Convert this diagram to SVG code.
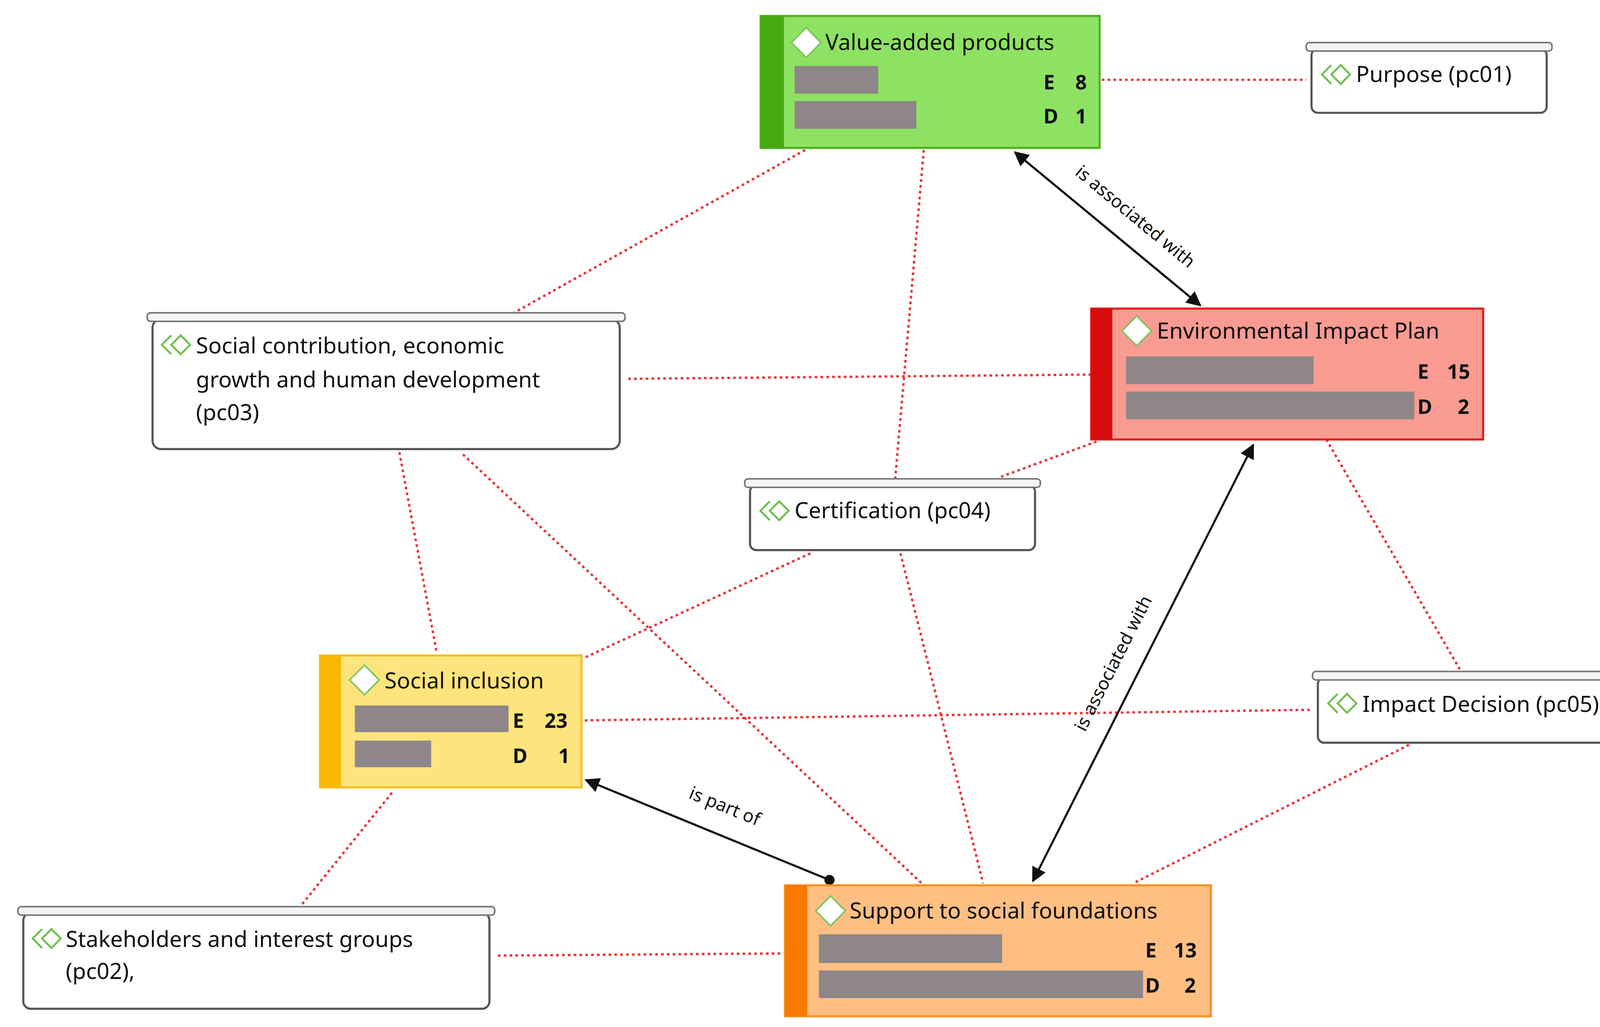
<svg xmlns="http://www.w3.org/2000/svg" width="4250" height="2630" viewBox="0 0 4250 2630">
<style>
text{font-family:"Noto Sans","Open Sans","Liberation Sans",sans-serif;fill:#111}
.t{font-size:21px}
.n{font-size:19px;font-weight:bold}
.l{font-size:17px}
.g{fill:#8e8688}
.dot{fill:none;stroke:#e8343a;stroke-width:2.2;stroke-dasharray:2.5 3}
.blk{fill:none;stroke:#111;stroke-width:2}
.scroll{fill:#fff;stroke:#555;stroke-width:2}
.bar{fill:#f4f4f4;stroke:#777;stroke-width:1.5}
.dia{fill:#fff;stroke:#7cc65a;stroke-width:1.5}
.ico{fill:none;stroke:#6cbf4a;stroke-width:2}
</style>
<defs>
<marker id="ah" viewBox="0 0 10 10" refX="9" refY="5" markerWidth="7" markerHeight="7" orient="auto-start-reverse"><path d="M0,0L10,5L0,10z" fill="#111"/></marker>
<marker id="dt" viewBox="0 0 10 10" refX="5" refY="5" markerWidth="6" markerHeight="6"><circle cx="5" cy="5" r="4" fill="#111"/></marker>
<symbol id="pc" viewBox="0 0 36 24" overflow="visible"><path class="ico" d="M12,2 L2,12 L12,22"/><path class="ico" d="M22,2 L12,12 L22,22 L32,12z"/></symbol>
</defs>
<rect width="4250" height="2630" fill="#fff"/>
<g transform="scale(2.712,2.725)">
<g id="connectors">
<path class="dot" d="M1040,75H1233"/>
<path class="dot" d="M760,141L485,294"/>
<path class="dot" d="M872,141L845,450"/>
<path class="dot" d="M593,356L1030,352"/>
<path class="dot" d="M1035,415L945,448"/>
<path class="dot" d="M1252,413L1378,629"/>
<path class="dot" d="M377,425L412,612"/>
<path class="dot" d="M437,427L870,830"/>
<path class="dot" d="M765,520L552,618"/>
<path class="dot" d="M850,520L928,830"/>
<path class="dot" d="M552,677L1239,667"/>
<path class="dot" d="M1330,700L1070,830"/>
<path class="dot" d="M370,745L285,850"/>
<path class="dot" d="M470,898L738,896"/>
<path class="blk" d="M958,143L1133,287" marker-start="url(#ah)" marker-end="url(#ah)"/>
<path class="blk" d="M1183,418L975,828" marker-start="url(#ah)" marker-end="url(#ah)"/>
<path class="blk" d="M553,733L783,827" marker-start="url(#ah)" marker-end="url(#dt)"/>
<text class="l" transform="translate(1068,208) rotate(39.5)" text-anchor="middle">is associated with</text>
<text class="l" transform="translate(1056,626) rotate(-63)" text-anchor="middle">is associated with</text>
<text class="l" transform="translate(682,763) rotate(22)" text-anchor="middle">is part of</text>
</g>
<g id="value-added">
<rect x="718" y="15" width="320" height="124" fill="#8ee263" stroke="#4cb41c" stroke-width="2"/>
<rect x="718" y="15" width="22" height="124" fill="#48a810"/>
<path class="dia" d="M761,26L775,40L761,54L747,40z"/>
<text class="t" x="779" y="47">Value-added products</text>
<rect class="g" x="750" y="62" width="79" height="26"/><rect class="g" x="750" y="95" width="115" height="26"/>
<text class="n" x="985" y="84">E</text><text class="n" x="1015" y="84">8</text>
<text class="n" x="985" y="116">D</text><text class="n" x="1015" y="116">1</text>
</g>
<g id="purpose">
<rect class="scroll" x="1238" y="46" width="222" height="60" rx="6"/>
<rect class="bar" x="1233" y="40" width="232" height="8" rx="3"/>
<use href="#pc" x="1246" y="59" width="32" height="22"/>
<text class="t" x="1280" y="77">Purpose (pc01)</text>
</g>
<g id="env">
<rect x="1030" y="290" width="370" height="123" fill="#f99b91" stroke="#e02020" stroke-width="2"/>
<rect x="1030" y="290" width="20" height="123" fill="#d80c0c"/>
<path class="dia" d="M1073,297L1087,311L1073,325L1059,311z"/>
<text class="t" x="1092" y="318">Environmental Impact Plan</text>
<rect class="g" x="1063" y="335" width="177" height="26"/><rect class="g" x="1063" y="368" width="272" height="26"/>
<text class="n" x="1338" y="356">E</text><text class="n" x="1366" y="356">15</text>
<text class="n" x="1338" y="389">D</text><text class="n" x="1376" y="389">2</text>
</g>
<g id="social-contribution">
<rect class="scroll" x="144" y="300" width="441" height="122" rx="8"/>
<rect class="bar" x="139" y="294" width="451" height="8" rx="3"/>
<use href="#pc" x="151" y="313" width="32" height="22"/>
<text class="t" x="185" y="332">Social contribution, economic</text>
<text class="t" x="185" y="364">growth and human development</text>
<text class="t" x="185" y="395">(pc03)</text>
</g>
<g id="certification">
<rect class="scroll" x="708" y="456" width="269" height="61" rx="6"/>
<rect class="bar" x="703" y="450" width="279" height="8" rx="3"/>
<use href="#pc" x="716" y="469" width="32" height="22"/>
<text class="t" x="750" y="487">Certification (pc04)</text>
</g>
<g id="social-inclusion">
<rect x="302" y="616" width="247" height="124" fill="#fde47c" stroke="#f4c020" stroke-width="2"/>
<rect x="302" y="616" width="20" height="124" fill="#f9b800"/>
<path class="dia" d="M344,625L358,639L344,653L330,639z"/>
<text class="t" x="363" y="647">Social inclusion</text>
<rect class="g" x="335" y="663" width="145" height="25"/><rect class="g" x="335" y="696" width="72" height="25"/>
<text class="n" x="484" y="684">E</text><text class="n" x="514" y="684">23</text>
<text class="n" x="484" y="717">D</text><text class="n" x="527" y="717">1</text>
</g>
<g id="impact-decision">
<rect class="scroll" x="1244" y="637" width="311" height="61" rx="6"/>
<rect class="bar" x="1239" y="631" width="320" height="8" rx="3"/>
<use href="#pc" x="1252" y="650" width="32" height="22"/>
<text class="t" x="1286" y="669">Impact Decision (pc05)</text>
</g>
<g id="stakeholders">
<rect class="scroll" x="22" y="858" width="440" height="90" rx="7"/>
<rect class="bar" x="17" y="852" width="450" height="8" rx="3"/>
<use href="#pc" x="29" y="871" width="32" height="22"/>
<text class="t" x="62" y="890">Stakeholders and interest groups</text>
<text class="t" x="62" y="920">(pc02),</text>
</g>
<g id="support">
<rect x="741" y="832" width="402" height="123" fill="#ffbf82" stroke="#f69020" stroke-width="2"/>
<rect x="741" y="832" width="21" height="123" fill="#f77a00"/>
<path class="dia" d="M784,842L798,856L784,870L770,856z"/>
<text class="t" x="802" y="863">Support to social foundations</text>
<rect class="g" x="773" y="878" width="173" height="27"/><rect class="g" x="773" y="912" width="306" height="26"/>
<text class="n" x="1081" y="900">E</text><text class="n" x="1108" y="900">13</text>
<text class="n" x="1081" y="933">D</text><text class="n" x="1118" y="933">2</text>
</g>
</g>
</svg>
